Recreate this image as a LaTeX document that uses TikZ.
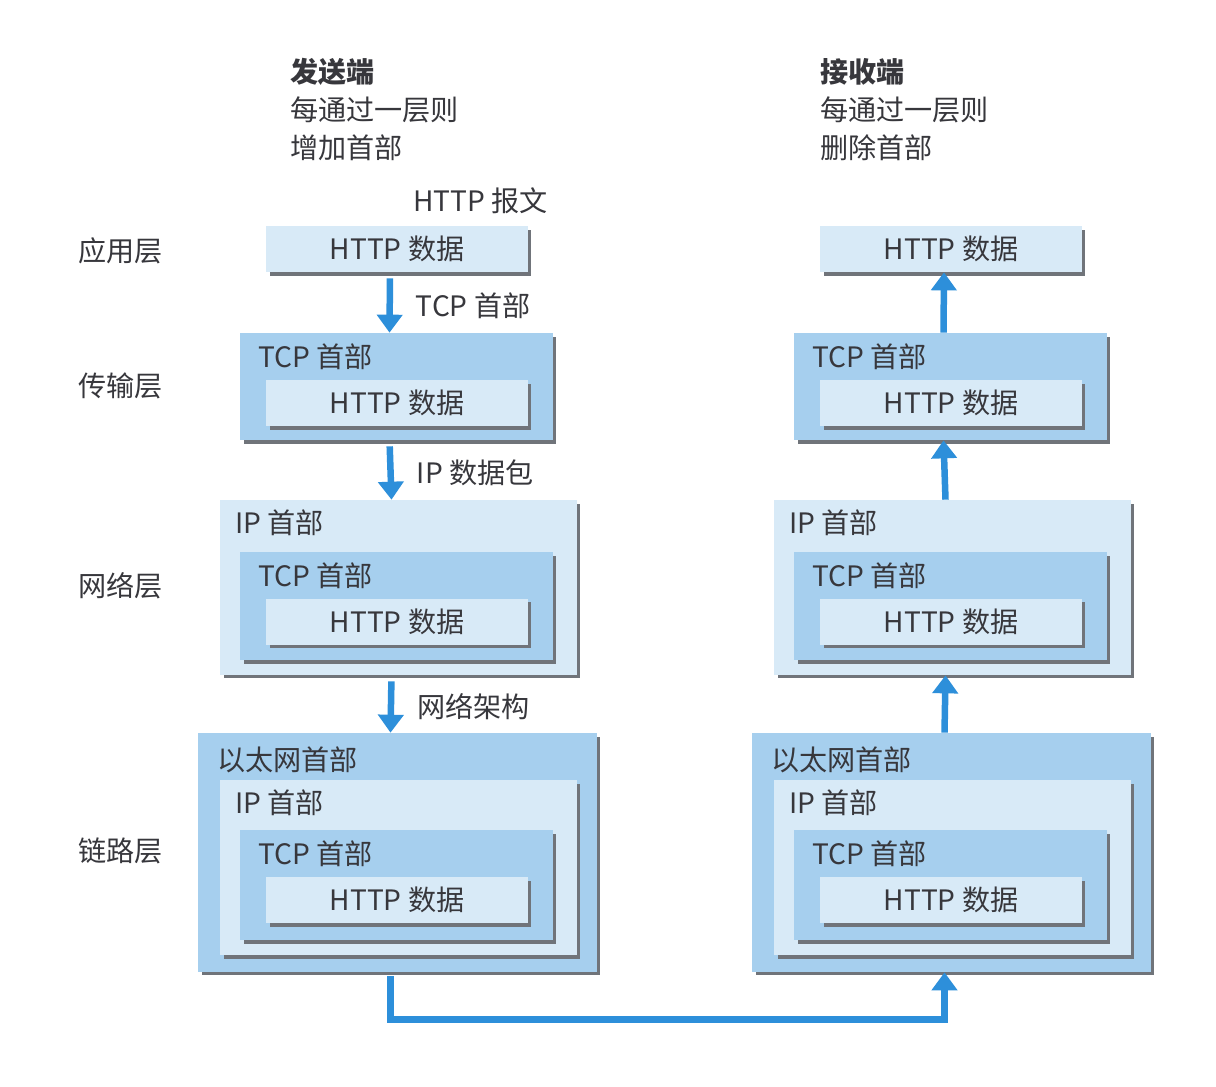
\documentclass[tikz,border=0pt]{standalone}
\usepackage{fontspec}
\setmainfont{Noto Sans CJK SC}
\usetikzlibrary{arrows.meta, shadows, positioning}
\definecolor{pktlight}{RGB}{216,234,247}
\definecolor{pktmid}{RGB}{166,207,238}
\definecolor{pktshade}{RGB}{112,116,122}
\definecolor{arrblue}{RGB}{45,143,218}
\definecolor{txtgray}{RGB}{55,55,60}

\begin{document}
\begin{tikzpicture}[x=0.02cm, y=-0.02cm,
    lyr/.style={rectangle, draw=none, inner sep=0pt,
        drop shadow={shadow xshift=0.07cm, shadow yshift=-0.07cm,
                     fill=pktshade, opacity=1},
        font=\fontsize{16}{19}\selectfont, text=txtgray},
    light/.style={lyr, fill=pktlight},
    mid/.style={lyr, fill=pktmid},
    httpbox/.style={light, minimum width=5.24cm, minimum height=0.92cm},
    tcpbox/.style={mid, minimum width=6.26cm},
    ipbox/.style={light, minimum width=7.14cm, minimum height=3.5cm},
    hdr/.style={anchor=west, inner sep=0pt, text=txtgray,
        font=\fontsize{16}{19}\selectfont},
    txt/.style={inner sep=0pt, text=txtgray,
        font=\fontsize{16}{21.6}\selectfont, align=left},
    arr/.style={draw=arrblue, line width=0.13cm,
        -{Triangle[width=0.5cm, length=0.36cm]}},
    arrlab/.style={txt, right=0.46cm, anchor=west}]
  \useasboundingbox (0,0) rectangle (1216,1086);
  \fill[white] (0,0) rectangle (1216,1086);

  % Kopfzeilen
  \node[txt, anchor=north west] (l-title) at (290,58)
    {\textbf{发送端}\\每通过一层则\\增加首部};
  \node[txt, anchor=north west] (r-title) at (820,58)
    {\textbf{接收端}\\每通过一层则\\删除首部};
  \node[txt, anchor=west] (l-msg) at (413,201) {HTTP 报文};

  % Schichten
  \node[txt, anchor=west] (app)  at (78,251) {应用层};
  \node[txt, anchor=west] (tra)  at (78,386) {传输层};
  \node[txt, anchor=west] (net)  at (78,586) {网络层};
  \node[txt, anchor=west] (link) at (78,851) {链路层};

  % Pakete, links Sender, rechts Empfaenger
  \foreach \s/\dx in {l/0, r/554} {
    % Anwendungsschicht
    \node[httpbox] (\s-http1) at (397+\dx,249) {HTTP 数据};
    % Transportschicht
    \node[tcpbox, minimum height=2.14cm] (\s-tcp2) at (396.5+\dx,386.5) {};
    \node[hdr] (\s-tcp2t) at ([shift={(18,24)}]\s-tcp2.north west) {TCP 首部};
    \node[httpbox] (\s-http2) at (397+\dx,403) {HTTP 数据};
    % Netzwerkschicht
    \node[ipbox] (\s-ip3) at (398.5+\dx,587.5) {};
    \node[hdr] (\s-ip3t) at ([shift={(15,23)}]\s-ip3.north west) {IP 首部};
    \node[tcpbox, minimum height=2.16cm] (\s-tcp3) at (396.5+\dx,606) {};
    \node[hdr] (\s-tcp3t) at ([shift={(18,24)}]\s-tcp3.north west) {TCP 首部};
    \node[httpbox] (\s-http3) at (397+\dx,621.5) {HTTP 数据};
    % Sicherungsschicht
    \node[mid, minimum width=7.98cm, minimum height=4.78cm] (\s-eth4) at (397.5+\dx,852.5) {};
    \node[hdr] (\s-eth4t) at ([shift={(19,27)}]\s-eth4.north west) {以太网首部};
    \node[ipbox] (\s-ip4) at (398.5+\dx,867.5) {};
    \node[hdr] (\s-ip4t) at ([shift={(15,23)}]\s-ip4.north west) {IP 首部};
    \node[tcpbox, minimum height=2.2cm] (\s-tcp4) at (396.5+\dx,885) {};
    \node[hdr] (\s-tcp4t) at ([shift={(18,24)}]\s-tcp4.north west) {TCP 首部};
    \node[httpbox] (\s-http4) at (397+\dx,900) {HTTP 数据};
  }

  % Pfeile Sender
  \draw[arr, shorten <=0.12cm] ([xshift=-0.14cm]l-http1.south) --
    node[arrlab, pos=0.55] (lab1) {TCP 首部} ([xshift=-0.14cm]l-tcp2.north);
  \draw[arr, shorten <=0.12cm] ([xshift=-0.14cm]l-tcp2.south) --
    node[arrlab, pos=0.55] (lab2) {IP 数据包} ([xshift=-0.14cm]l-ip3.north);
  \draw[arr, shorten <=0.12cm] ([xshift=-0.14cm]l-ip3.south) --
    node[arrlab, pos=0.55] (lab3) {网络架构} ([xshift=-0.14cm]l-eth4.north);
  % Pfeile Empfaenger
  \draw[arr] ([xshift=-0.14cm]r-tcp2.north) -- ([xshift=-0.14cm]r-http1.south);
  \draw[arr] ([xshift=-0.14cm]r-ip3.north) -- ([xshift=-0.14cm]r-tcp2.south);
  \draw[arr] ([xshift=-0.14cm]r-eth4.north) -- ([xshift=-0.14cm]r-ip3.south);
  % Leitung
  \draw[arr, shorten <=0.08cm] ([xshift=-0.14cm]l-eth4.south) -- ++(0,47)
    -| ([xshift=-0.14cm]r-eth4.south);
\end{tikzpicture}
\end{document}
